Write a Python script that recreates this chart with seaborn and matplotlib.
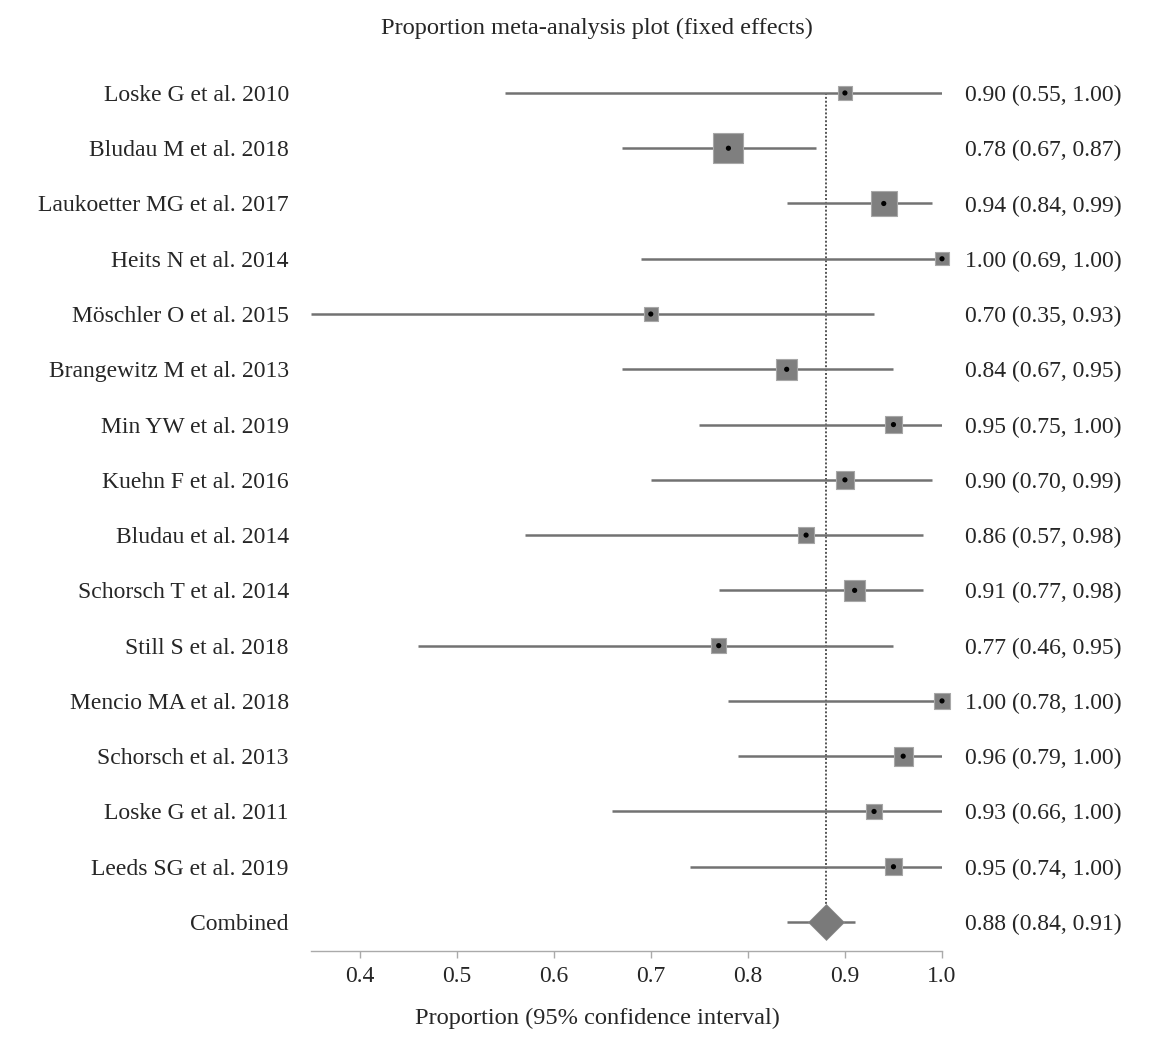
import numpy as np
import pandas as pd
import matplotlib.pyplot as plt
import seaborn as sns


# Study-level proportions, 95% CI and weights (%)
studies = [
    "Loske G et al. 2010", "Bludau M et al. 2018", "Laukoetter MG et al. 2017",
    "Heits N et al. 2014", "Möschler O et al. 2015", "Brangewitz M et al. 2013",
    "Min YW et al. 2019", "Kuehn F et al. 2016", "Bludau et al. 2014",
    "Schorsch T et al. 2014", "Still S et al. 2018", "Mencio MA et al. 2018",
    "Schorsch et al. 2013", "Loske G et al. 2011", "Leeds SG et al. 2019",
]
proportion = [0.90, 0.78, 0.94, 1.00, 0.70, 0.84, 0.95, 0.90, 0.86, 0.91, 0.77, 1.00, 0.96, 0.93, 0.95]
ci_low = [0.55, 0.67, 0.84, 0.69, 0.35, 0.67, 0.75, 0.70, 0.57, 0.77, 0.46, 0.78, 0.79, 0.66, 0.74]
ci_high = [1.00, 0.87, 0.99, 1.00, 0.93, 0.95, 1.00, 0.99, 0.98, 0.98, 0.95, 1.00, 1.00, 1.00, 1.00]
weights = [3.6, 17.2, 12.9, 3.4, 3.6, 8.4, 5.7, 6.0, 4.5, 9.0, 4.3, 4.5, 6.7, 4.5, 5.7]

pooled = 0.88
pooled_low = 0.84
pooled_high = 0.91

xticks = [0.4, 0.5, 0.6, 0.7, 0.8, 0.9, 1.0]

df = pd.DataFrame({
    "study": studies,
    "row": np.arange(len(studies)),
    "proportion": proportion,
    "ci_low": ci_low,
    "ci_high": ci_high,
    "weight": weights,
})
# square side grows with sqrt(weight); area in points^2 for scatter
side_pt = 30 * 0.72 * np.sqrt(df["weight"] / max(weights))
df["area"] = side_pt ** 2

sns.set_style("white")
plt.rcParams["font.family"] = ["Liberation Serif", "DejaVu Serif"]
fs = 17
fs_big = 17.6

W, H = 1157, 1052
fig = plt.figure(figsize=(W / 100, H / 100), dpi=100)
ax = fig.add_axes([311 / W, (H - 951) / H, 631 / W, (951 - 59.8) / H])

n = len(studies)
line_col = "#727272"
box_col = "#7f7f7f"

# reference line at pooled estimate
ax.vlines(pooled, 0, n, color="#555555", lw=1.4, linestyles=(0, (1, 1)), zorder=1)

# confidence intervals
ax.hlines(df["row"], df["ci_low"], df["ci_high"], color=line_col, lw=1.8, zorder=2)
ax.hlines(n, pooled_low, pooled_high, color=line_col, lw=1.8, zorder=2)

# weighted squares and centre dots
sns.scatterplot(
    data=df, x="proportion", y="row", size="area",
    sizes=(df["area"].min(), df["area"].max()),
    marker="s", color=box_col, edgecolor="#a8a8a8", linewidth=0.8,
    legend=False, ax=ax, zorder=3, clip_on=False,
)
sns.scatterplot(
    data=df, x="proportion", y="row", s=14, color="black",
    edgecolor="none", legend=False, ax=ax, zorder=4, clip_on=False,
)

# pooled diamond
sns.scatterplot(
    x=[pooled], y=[n], marker="D", s=18.3 ** 2, color="#7a7a7a",
    edgecolor="#8a8a8a", linewidth=0.5, legend=False, ax=ax, zorder=5,
    clip_on=False,
)

ax.set_xlim(0.35, 1.0)
ax.set_ylim(n + 0.525, -0.6)
ax.set_xticks(xticks)
ax.set_xticklabels([f"{t:.1f}" for t in xticks], fontsize=fs)
ax.set_yticks(range(n + 1))
ax.set_yticklabels(studies + ["Combined"], fontsize=fs)
ax.set_xlabel("")
ax.set_ylabel("")

for s in ["top", "right", "left"]:
    ax.spines[s].set_visible(False)
ax.spines["bottom"].set_color("#aaaaaa")
ax.spines["bottom"].set_linewidth(1.0)
ax.tick_params(axis="x", bottom=True, length=5, width=1, color="#aaaaaa", pad=6)
ax.tick_params(axis="y", left=False, length=0, pad=16)
for lab in ax.get_yticklabels():
    lab.set_verticalalignment("center_baseline")

# right-hand estimate labels
labels = [f"{p:.2f} ({lo:.2f}, {hi:.2f})" for p, lo, hi in zip(proportion, ci_low, ci_high)]
labels.append(f"{pooled:.2f} ({pooled_low:.2f}, {pooled_high:.2f})")
trans = ax.get_yaxis_transform()
for i, lab in enumerate(labels):
    ax.text(1 + 23 / 631, i, lab, transform=trans, ha="left", va="center_baseline",
            fontsize=fs, clip_on=False)

fig.text(597 / W, 1 - 28 / H, "Proportion meta-analysis plot (fixed effects)",
         ha="center", va="center", fontsize=fs_big)
fig.text(597 / W, 1 - 1018 / H, "Proportion (95% confidence interval)",
         ha="center", va="center", fontsize=fs_big)

fig.savefig("out.png", dpi=100)
